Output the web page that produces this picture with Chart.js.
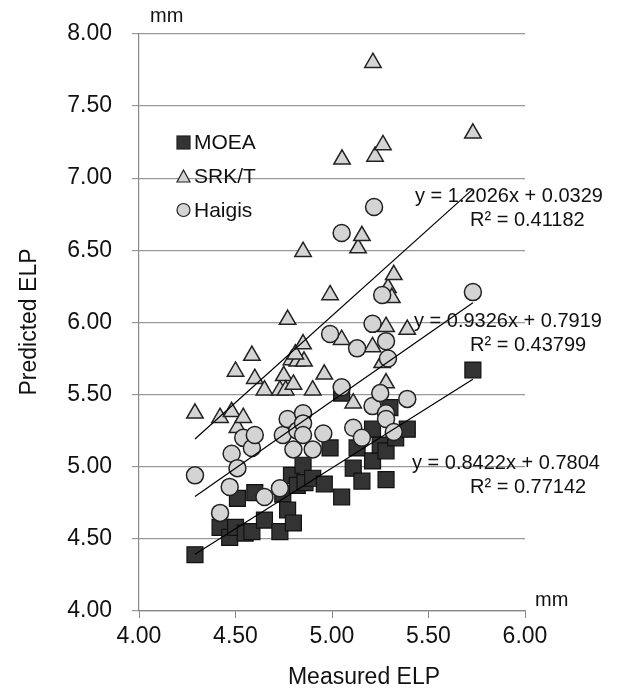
<!DOCTYPE html>
<html>
<head>
<meta charset="utf-8">
<script src="https://cdn.jsdelivr.net/npm/chart.js@4.4.0/dist/chart.umd.min.js"></script>
<style>
  html, body { margin: 0; padding: 0; background: #fff; }
  #wrap { width: 628px; height: 692px; }
</style>
</head>
<body>
<div id="wrap"><canvas id="chart" width="628" height="692"></canvas></div>
<script>
// measured vs predicted ELP (mm)
const moeaX = [4.29, 4.42, 4.47, 4.50, 4.51, 4.55, 4.585, 4.60, 4.65, 4.73, 4.745, 4.77, 4.80, 4.79, 4.82, 4.85, 4.86,
  4.90, 4.96, 4.99, 5.05, 5.05, 5.11, 5.13, 5.155, 5.21, 5.21, 5.25, 5.28, 5.28, 5.30, 5.33, 5.39, 5.73];
const moeaY = [4.39, 4.58, 4.51, 4.58, 4.78, 4.54, 4.55, 4.82, 4.63, 4.55, 4.81, 4.70, 4.61, 4.94, 4.87, 5.01, 4.89,
  4.92, 4.88, 5.13, 4.79, 5.51, 4.99, 5.13, 4.90, 5.04, 5.26, 5.15, 5.11, 4.91, 5.41, 5.20, 5.26, 5.67];

const srktX = [4.29, 4.42, 4.48, 4.50, 4.51, 4.54, 4.585, 4.60, 4.65, 4.73, 4.75, 4.76, 4.77, 4.79, 4.80, 4.82, 4.855,
  4.81, 4.85, 4.85, 4.90, 4.96, 4.99, 5.05, 5.052, 5.11, 5.135, 5.155, 5.21, 5.223, 5.212, 5.264, 5.26, 5.28, 5.28,
  5.29, 5.31, 5.32, 5.39, 5.73];
const srktY = [5.37, 5.34, 5.38, 5.66, 5.27, 5.34, 5.77, 5.61, 5.53, 5.53, 5.63, 5.53, 6.02, 5.74, 5.57, 5.73, 5.73,
  5.78, 5.85, 6.49, 5.53, 5.64, 6.19, 5.88, 7.13, 5.44, 6.515, 6.60, 5.83, 7.15, 7.80, 7.23, 5.72, 5.97, 5.58,
  6.24, 6.17, 6.33, 5.95, 7.31];

const haigisX = [4.29, 4.42, 4.47, 4.48, 4.51, 4.54, 4.585, 4.60, 4.65, 4.73, 4.745, 4.77, 4.80, 4.82, 4.85, 4.85, 4.85,
  4.90, 4.955, 4.99, 5.05, 5.05, 5.11, 5.13, 5.155, 5.21, 5.21, 5.218, 5.25, 5.26, 5.28, 5.28, 5.28, 5.29, 5.32, 5.39, 5.73];
const haigisY = [4.94, 4.68, 4.86, 5.09, 4.99, 5.20, 5.13, 5.22, 4.79, 4.85, 5.22, 5.33, 5.12, 5.25, 5.37, 5.30, 5.22,
  5.12, 5.23, 5.92, 5.55, 6.62, 5.27, 5.82, 5.20, 5.99, 5.42, 6.80, 5.51, 6.19, 5.87, 5.37, 5.33, 5.75, 5.24, 5.47, 6.21];

// trendlines: MOEA, SRK/T, Haigis
const trendSlope = [0.8422, 1.2026, 0.9326];
const trendIntercept = [0.7804, 0.0329, 0.7919];
const trendR2 = ['0.77142', '0.41182', '0.43799'];

const xTicks = [4.0, 4.5, 5.0, 5.5, 6.0];
const yTicks = [4.0, 4.5, 5.0, 5.5, 6.0, 6.5, 7.0, 7.5, 8.0];

const FONT = '"Liberation Sans", Arial, sans-serif';

const pts = (xs, ys) => xs.map((x, i) => ({ x: x, y: ys[i] }));
const trend = (xs, k) => {
  const lo = Math.min(...xs), hi = Math.max(...xs);
  return [lo, hi].map(x => ({ x: x, y: trendSlope[k] * x + trendIntercept[k] }));
};

const textPlugin = {
  id: 'texts',
  afterDraw(chart) {
    const ctx = chart.ctx;
    ctx.save();
    ctx.fillStyle = '#111';
    ctx.textBaseline = 'middle';

    // axis titles
    ctx.font = '23px ' + FONT;
    ctx.textAlign = 'center';
    ctx.fillText('Measured ELP', 364, 678);
    ctx.save();
    ctx.translate(30, 322);
    ctx.rotate(-Math.PI / 2);
    ctx.fillText('Predicted ELP', 0, 0);
    ctx.restore();

    // units
    ctx.font = '20px ' + FONT;
    ctx.textAlign = 'left';
    ctx.fillText('mm', 150, 16);
    ctx.fillText('mm', 535, 600);

    // trendline equations
    const eq = [[412, 463], [415, 196], [414, 321]];
    for (let k = 0; k < 3; k++) {
      ctx.fillText('y = ' + trendSlope[k].toFixed(4) + 'x + ' + trendIntercept[k].toFixed(4), eq[k][0], eq[k][1]);
      ctx.fillText('R\u00b2 = ' + trendR2[k], 470, eq[k][1] + 24);
    }

    // legend
    ctx.font = '21px ' + FONT;
    ctx.lineWidth = 1.2;
    ctx.strokeStyle = '#222';
    // square
    ctx.fillStyle = '#333';
    ctx.fillRect(177, 136, 13, 13);
    ctx.strokeRect(177, 136, 13, 13);
    // triangle
    ctx.fillStyle = '#d4d4d4';
    ctx.beginPath();
    ctx.moveTo(183.5, 170); ctx.lineTo(190, 182); ctx.lineTo(177, 182); ctx.closePath();
    ctx.fill(); ctx.stroke();
    // circle
    ctx.beginPath();
    ctx.arc(183.5, 210, 6.5, 0, Math.PI * 2);
    ctx.fill(); ctx.stroke();
    ctx.fillStyle = '#111';
    ctx.fillText('MOEA', 194, 143);
    ctx.fillText('SRK/T', 194, 177);
    ctx.fillText('Haigis', 194, 211);
    ctx.restore();
  }
};

const lineStyle = { type: 'line', showLine: true, borderColor: '#000', borderWidth: 1.2, pointRadius: 0, fill: false, order: 0 };

new Chart(document.getElementById('chart'), {
  type: 'scatter',
  data: {
    datasets: [
      { label: 'MOEA', data: pts(moeaX, moeaY), pointStyle: 'rect', pointRadius: 11.3,
        backgroundColor: '#333', borderColor: '#111', borderWidth: 1.2, order: 3 },
      { label: 'SRK/T', data: pts(srktX, srktY), pointStyle: 'triangle', pointRadius: 9.5,
        backgroundColor: '#d4d4d4', borderColor: '#222', borderWidth: 1.5, order: 2 },
      { label: 'Haigis', data: pts(haigisX, haigisY), pointStyle: 'circle', pointRadius: 8.5,
        backgroundColor: '#d4d4d4', borderColor: '#222', borderWidth: 1.5, order: 1 },
      Object.assign({ label: 'MOEA fit', data: trend(moeaX, 0) }, lineStyle),
      Object.assign({ label: 'SRK/T fit', data: trend(srktX, 1) }, lineStyle),
      Object.assign({ label: 'Haigis fit', data: trend(haigisX, 2) }, lineStyle)
    ]
  },
  options: {
    responsive: false,
    animation: false,
    layout: { padding: { top: 32, right: 103, left: 0, bottom: 0 } },
    plugins: { legend: { display: false }, tooltip: { enabled: false } },
    scales: {
      x: {
        type: 'linear', min: 4, max: 6,
        afterBuildTicks: s => { s.ticks = xTicks.map(v => ({ value: v })); },
        afterFit: s => { s.height = 81; },
        ticks: { callback: v => v.toFixed(2), font: { family: FONT, size: 23 }, color: '#111', padding: 5 },
        grid: { drawOnChartArea: false, drawTicks: true, tickLength: 7, color: '#888' },
        border: { color: '#888', width: 1.2 }
      },
      y: {
        min: 4, max: 8,
        afterBuildTicks: s => { s.ticks = yTicks.map(v => ({ value: v })); },
        afterFit: s => { s.width = 139; },
        ticks: { callback: v => v.toFixed(2), font: { family: FONT, size: 23 }, color: '#111', padding: 20 },
        grid: { color: '#999', lineWidth: 1.2, tickLength: 7 },
        border: { color: '#888', width: 1.2 }
      }
    }
  },
  plugins: [textPlugin]
});
</script>
</body>
</html>
